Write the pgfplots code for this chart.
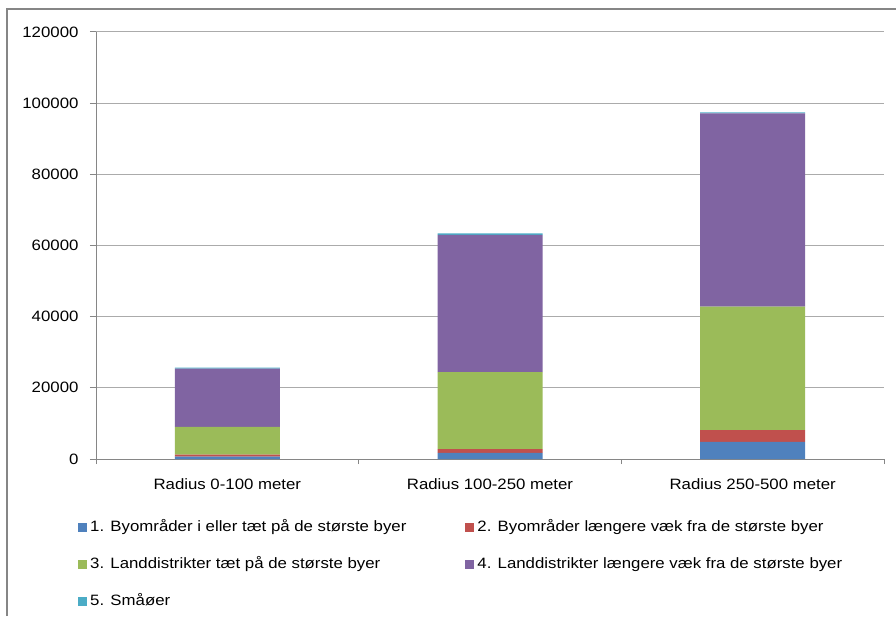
\documentclass[border=0pt]{standalone}
\usepackage{fontspec}
\setmainfont{Liberation Sans}[FakeStretch=1.12]
\usepackage{pgfplots}
\pgfplotsset{compat=1.18}
\definecolor{c1}{HTML}{4F81BD}
\definecolor{c2}{HTML}{C0504D}
\definecolor{c3}{HTML}{9BBB59}
\definecolor{c4}{HTML}{8064A2}
\definecolor{c5}{HTML}{4BACC6}
\definecolor{axisgray}{HTML}{868686}
\definecolor{gridgray}{HTML}{ABABAB}
\newcommand{\chartfont}{\fontsize{15pt}{18pt}\selectfont}
\begin{document}
\begin{tikzpicture}
\path[use as bounding box] (0pt,0pt) rectangle (896pt,616pt);
\draw[color=axisgray,line width=1.5pt] (7pt,0pt) -- (7pt,607pt) -- (896pt,607pt);
\begin{axis}[
  at={(96pt,157pt)}, anchor=south west,
  width=788pt, height=427pt, scale only axis,
  ybar stacked, bar width=105pt,
  xmin=-0.5, xmax=2.5, ymin=0, ymax=120000,
  xtick={0,1,2},
  xticklabels={Radius 0-100 meter, Radius 100-250 meter, Radius 250-500 meter},
  minor xtick={-0.5,0.5,1.5,2.5},
  ytick={0,20000,40000,60000,80000,100000,120000},
  yticklabels={0,20000,40000,60000,80000,100000,120000},
  scaled y ticks=false,
  axis x line*=bottom, axis y line*=left,
  axis line style={color=axisgray, line width=1pt},
  tick align=outside,
  major tick length=6pt, minor tick length=5pt,
  tick style={color=axisgray, line width=1pt},
  major x tick style={draw=none},
  ymajorgrids=true,
  major grid style={color=gridgray, line width=1pt},
  tick label style={font=\chartfont, text=black},
  xticklabel style={yshift=-10pt},
  yticklabel style={xshift=-8pt},
  legend style={at={(rel axis cs:-0.0266,-0.131)}, anchor=north west,
    draw=none, fill=none, font=\chartfont,
    nodes={inner sep=3pt, text height=11pt, text depth=3pt},
    row sep=17pt,
    /tikz/column 2/.style={column sep=56pt}},
  legend columns=2,
  legend cell align=left,
  legend image code/.code={\fill[#1] (0pt,-4.5pt) rectangle (9pt,4.5pt);},
]
\addplot[fill=c1, draw=none] coordinates {(0,700) (1,1700) (2,4800)};
\addplot[fill=c2, draw=none] coordinates {(0,500) (1,1100) (2,3300)};
\addplot[fill=c3, draw=none] coordinates {(0,7800) (1,21600) (2,34700)};
\addplot[fill=c4, draw=none] coordinates {(0,16400) (1,38600) (2,54300)};
\addplot[fill=c5, draw=none] coordinates {(0,300) (1,400) (2,300)};
\legend{1. Byområder i eller tæt på de største byer,
        2. Byområder længere væk fra de største byer,
        3. Landdistrikter tæt på de største byer,
        4. Landdistrikter længere væk fra de største byer,
        5. Småøer}
\end{axis}
\end{tikzpicture}
\end{document}
